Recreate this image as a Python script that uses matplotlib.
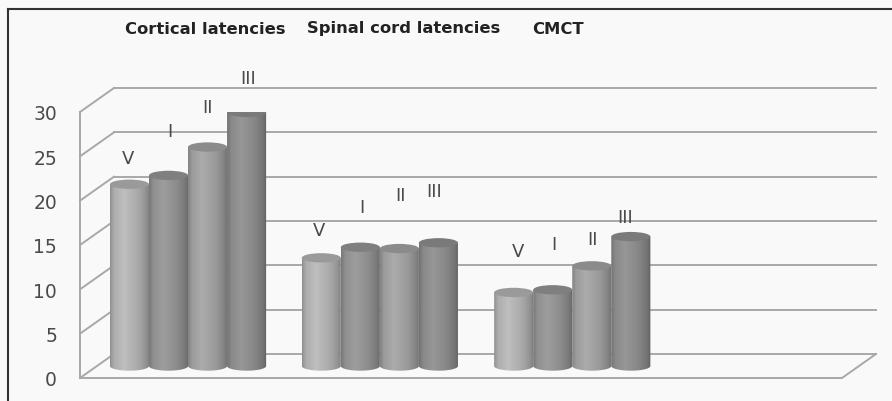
import numpy as np
import matplotlib
matplotlib.use('Agg')
import matplotlib.pyplot as plt
from matplotlib.path import Path
from matplotlib.patches import PathPatch, Ellipse
from matplotlib.lines import Line2D

# ---------------- data ----------------
groups = ['Cortical latencies', 'Spinal cord latencies', 'CMCT']
series = ['V', 'I', 'II', 'III']
cortical = [20.5, 21.5, 24.7, 28.6]
spinal = [12.2, 13.4, 13.25, 13.9]
cmct = [8.3, 8.6, 11.3, 14.6]
values = [cortical, spinal, cmct]
yticks = [0, 5, 10, 15, 20, 25, 30]

# ---------------- style / layout ----------------
W, H = 892, 402
bar_colors = ['#adadad', '#8f8f8f', '#9c9c9c', '#898989']
top_colors = ['#9a9a9a', '#7f7f7f', '#8b8b8b', '#7a7a7a']
grid_color = '#a8a8a8'
text_color = '#4a4a4a'
group_pos = [0.478, 1.485, 2.495]
# label offsets (pixels) from top centre of each cylinder
label_offsets = [
    [(-1, 26), (1, 44), (0, 40), (2, 34)],
    [(-2, 28), (2, 40), (1, 54), (-4, 52)],
    [(4, 41), (1, 46), (1, 27), (-6, 20)],
]
title_px = [(205, 29), (404, 29), (558, 29)]

plt.rcParams['font.family'] = ['DejaVu Sans']

fig = plt.figure(figsize=(W / 100, H / 100), dpi=100, facecolor='#f9f9f9')
ax = fig.add_axes([80 / W, (H - 379) / H, 762 / W, 266 / H])
ax.set_xlim(0, 4)
ax.set_ylim(0, 30)
ax.patch.set_alpha(0)
for s in ax.spines.values():
    s.set_visible(False)
ax.set_xticks([])
ax.set_yticks(yticks)
ax.set_yticklabels([str(t) for t in yticks])
ax.tick_params(axis='y', length=0, pad=16.5, labelsize=13.5, labelcolor=text_color)

dx, dy = 0.178, 2.7   # depth offset in data units
lw = 1.4
for t in yticks:
    ax.add_line(Line2D([dx, 4 + dx], [t + dy, t + dy], color=grid_color, lw=lw, zorder=1, clip_on=False))
    ax.add_line(Line2D([0, dx], [t, t + dy], color=grid_color, lw=lw, zorder=1, clip_on=False))
ax.add_line(Line2D([0, 0], [0, yticks[-1]], color=grid_color, lw=lw, zorder=1, clip_on=False))
ax.add_line(Line2D([0, 4, 4 + dx], [0, 0, dy], color=grid_color, lw=lw, zorder=1, clip_on=False))

w = 0.205
eh = 1.05
t = np.linspace(0, 1, 60)
shade = np.interp(t, [0, 0.1, 0.35, 0.7, 0.9, 1], [0.84, 1.0, 1.1, 0.98, 0.85, 0.72])

z = 5
for g, vals in enumerate(values):
    for i, v in enumerate(vals):
        xc = group_pos[g] + (i - 1.5) * w + 0.5 * dx
        base = 0.5 * dy
        top = v + 0.5 * dy
        x0, x1 = xc - w / 2, xc + w / 2
        th = np.linspace(np.pi, 2 * np.pi, 40)
        verts = [(x0, top), (x0, base)]
        verts += list(zip(xc + w / 2 * np.cos(th), base + eh / 2 * np.sin(th)))
        verts += [(x1, top), (x0, top)]
        codes = [Path.MOVETO] + [Path.LINETO] * (len(verts) - 2) + [Path.CLOSEPOLY]
        body = PathPatch(Path(verts, codes), facecolor='none', edgecolor='none', transform=ax.transData)
        ax.add_patch(body)
        rgb = np.array(matplotlib.colors.to_rgb(bar_colors[i]))
        img = np.clip(shade[:, None] * rgb[None, :], 0, 1)[None, :, :]
        im = ax.imshow(img, extent=[x0, x1, base - eh / 2, top], aspect='auto',
                       interpolation='bilinear', zorder=z, clip_on=True)
        im.set_clip_path(body)
        ax.add_patch(Ellipse((xc, top), w, eh, facecolor=top_colors[i], edgecolor='none', zorder=z + 1))
        ox, oy = label_offsets[g][i]
        ax.annotate(series[i], xy=(xc, top), xytext=(ox, oy), textcoords='offset pixels',
                    ha='center', va='center', fontsize=13, color=text_color, zorder=20,
                    annotation_clip=False)
        z += 2

ax.set_xlim(0, 4)
ax.set_ylim(0, 30)

for name, (px, py) in zip(groups, title_px):
    fig.text(px / W, 1 - py / H, name, ha='center', va='center', fontsize=11.8,
             fontweight='bold', color='#222222')

fig.add_artist(Line2D([8 / W, 1], [1 - 10 / H, 1 - 10 / H], color='#333333', lw=1.5, transform=fig.transFigure))
fig.add_artist(Line2D([8 / W, 8 / W], [0, 1 - 10 / H], color='#333333', lw=1.5, transform=fig.transFigure))

fig.savefig('out.png', dpi=100, facecolor=fig.get_facecolor())
